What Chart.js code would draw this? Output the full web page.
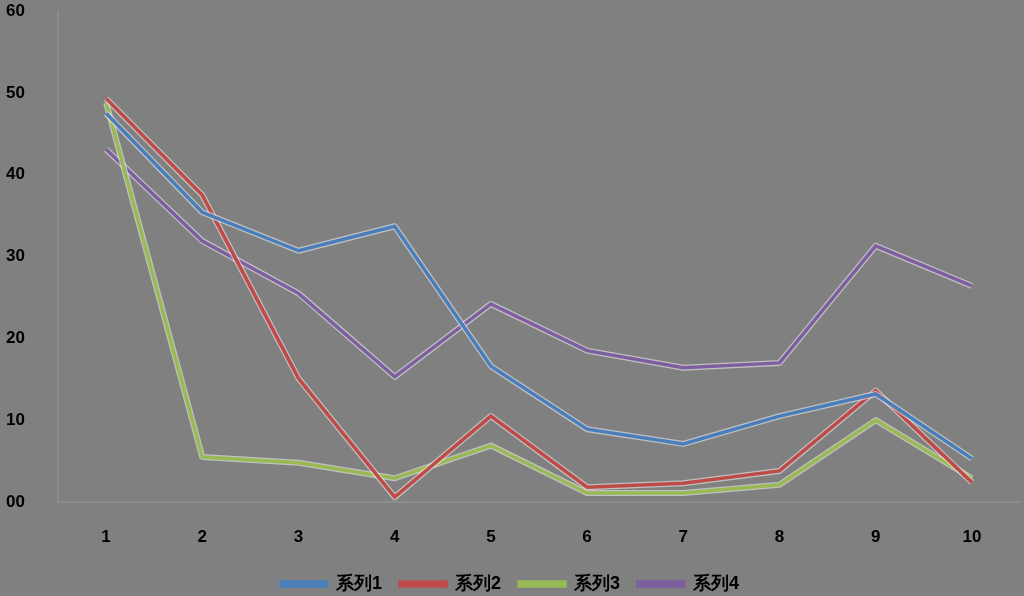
<!DOCTYPE html>
<html>
<head>
<meta charset="utf-8">
<script src="https://cdn.jsdelivr.net/npm/chart.js@4/dist/chart.umd.min.js"></script>
<style>
html,body{margin:0;padding:0;background:#808080;}
#wrap{width:1024px;height:596px;position:relative;}
</style>
</head>
<body>
<div id="wrap"><canvas id="c" width="1024" height="596"></canvas></div>
<script>
const categories = ['1','2','3','4','5','6','7','8','9','10'];
const seriesNames = ['系列1','系列2','系列3','系列4'];
const series1 = [47.5, 35.4, 30.7, 33.7, 16.6, 8.9, 7.1, 10.5, 13.2, 5.3];
const series2 = [49.3, 37.5, 15.1, 0.6, 10.5, 1.8, 2.3, 3.8, 13.6, 2.4];
const series3 = [48.8, 5.5, 4.8, 2.9, 6.9, 1.1, 1.1, 2.1, 10.0, 2.9];
const series4 = [43.1, 31.9, 25.5, 15.3, 24.2, 18.5, 16.4, 17.0, 31.3, 26.4];
const yTickLabels = ['00','10','20','30','40','50','60'];
const colors = ['#4A7EBB','#BE4B48','#98B954','#7D5FA0'];

const halo = {
  id:'halo',
  beforeDatasetDraw(chart, args){
    const pts = args.meta.data;
    const ctx = chart.ctx;
    ctx.save();
    ctx.strokeStyle = 'rgba(255,255,255,0.5)';
    ctx.lineWidth = 6;
    ctx.lineJoin = 'round';
    ctx.beginPath();
    pts.forEach((p,i)=>{ if(i===0) ctx.moveTo(p.x,p.y); else ctx.lineTo(p.x,p.y); });
    ctx.stroke();
    ctx.restore();
  }
};

const bgPlugin = {
  id:'bg',
  beforeDraw(chart){
    const ctx = chart.ctx;
    ctx.save();
    ctx.fillStyle = '#808080';
    ctx.fillRect(0,0,chart.width,chart.height);
    ctx.restore();
  }
};

const data = [series1, series2, series3, series4];
new Chart(document.getElementById('c'), {
  type:'line',
  data:{
    labels: categories,
    datasets: data.map((d,i)=>({
      label: seriesNames[i],
      data: d,
      borderColor: colors[i],
      backgroundColor: colors[i],
      borderWidth: 3.5,
      pointRadius: 0,
      tension: 0,
      fill: false
    }))
  },
  options:{
    responsive:false,
    animation:false,
    layout:{padding:{left:0,right:4,top:11,bottom:-7}},
    plugins:{
      legend:{
        position:'bottom',
        labels:{
          color:'#000',
          font:{family:'Liberation Sans', size:18, weight:'bold'},
          boxWidth:46,
          boxHeight:4,
          padding:18
        }
      },
      tooltip:{enabled:false}
    },
    scales:{
      x:{
        offset:true,
        grid:{display:false,offset:true},
        border:{display:true,color:'#8c8c8c',width:2},
        ticks:{color:'#000',font:{family:'Liberation Sans',size:17,weight:'bold'},padding:17,maxRotation:0},
        afterFit(s){ s.height = 55; s.paddingLeft = 0; s.paddingRight = 0; }
      },
      y:{
        min:0,max:60,
        grid:{display:false},
        border:{display:true,color:'#8c8c8c',width:2},
        ticks:{
          stepSize:10,
          color:'#000',
          font:{family:'Liberation Sans',size:17,weight:'bold'},
          padding:25,
          callback:(v,i)=>yTickLabels[i]
        },
        afterFit(s){ s.width = 58; s.paddingTop = 0; s.paddingBottom = 0; }
      }
    }
  },
  plugins:[bgPlugin, halo]
});
</script>
</body>
</html>
